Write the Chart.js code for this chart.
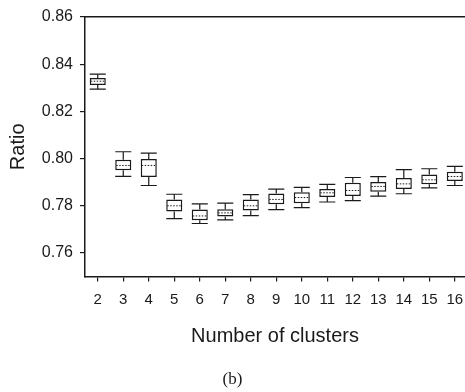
<!DOCTYPE html>
<html>
<head>
<meta charset="utf-8">
<title>Ratio vs number of clusters</title>
<script src="https://cdn.jsdelivr.net/npm/chart.js@4.4.0/dist/chart.umd.min.js"></script>
<style>
    body { margin: 0; background: #fff; overflow: hidden; }
    .chart-box { width: 465px; height: 392px; position: relative; }
</style>
</head>
<body>
<div class="chart-box">
    <canvas id="ratioChart"></canvas>
</div>
<script>
// Box plot data
const clusters = [2, 3, 4, 5, 6, 7, 8, 9, 10, 11, 12, 13, 14, 15, 16];
const whiskerHigh = [0.8358, 0.8029, 0.8023, 0.7849, 0.7808, 0.7811, 0.7847, 0.7871, 0.7878, 0.7891, 0.7920, 0.7924, 0.7953, 0.7957, 0.7967];
const upperQuartile = [0.8342, 0.7995, 0.7998, 0.7827, 0.7784, 0.7785, 0.7827, 0.7852, 0.7857, 0.7871, 0.7898, 0.7901, 0.7918, 0.7933, 0.7944];
const medians = [0.8328, 0.7971, 0.7971, 0.7800, 0.7757, 0.7770, 0.7800, 0.7827, 0.7835, 0.7855, 0.7865, 0.7882, 0.7893, 0.7910, 0.7924];
const lowerQuartile = [0.8312, 0.7951, 0.7922, 0.7776, 0.7739, 0.7755, 0.7780, 0.7807, 0.7811, 0.7837, 0.7842, 0.7860, 0.7871, 0.7891, 0.7905];
const whiskerLow = [0.8294, 0.7925, 0.7886, 0.7746, 0.7725, 0.7740, 0.7758, 0.7784, 0.7792, 0.7816, 0.7822, 0.7841, 0.7851, 0.7876, 0.7886];
const yTicks = [0.76, 0.78, 0.80, 0.82, 0.84, 0.86];

const ink = '#1a1a1a';
const sans = 'Liberation Sans, Arial, sans-serif';

// Whiskers, caps and medians drawn on top of the floating bars
const whiskerPlugin = {
    id: 'whiskers',
    afterDatasetsDraw(chart) {
        const ctx = chart.ctx;
        const yScale = chart.scales.y;
        const bars = chart.getDatasetMeta(0).data;
        ctx.save();
        ctx.strokeStyle = ink;
        bars.forEach((bar, i) => {
            const half = bar.width / 2;
            const yHi = yScale.getPixelForValue(whiskerHigh[i]);
            const yQ3 = yScale.getPixelForValue(upperQuartile[i]);
            const yQ1 = yScale.getPixelForValue(lowerQuartile[i]);
            const yLo = yScale.getPixelForValue(whiskerLow[i]);
            const yMed = yScale.getPixelForValue(medians[i]);

            ctx.lineWidth = 1.2;
            ctx.setLineDash([]);
            ctx.beginPath();
            ctx.moveTo(bar.x, yQ3);
            ctx.lineTo(bar.x, yHi);
            ctx.moveTo(bar.x, yQ1);
            ctx.lineTo(bar.x, yLo);
            ctx.moveTo(bar.x - half, yHi);
            ctx.lineTo(bar.x + half, yHi);
            ctx.moveTo(bar.x - half, yLo);
            ctx.lineTo(bar.x + half, yLo);
            ctx.stroke();

            // dotted median
            ctx.lineWidth = 1;
            ctx.setLineDash([1.5, 1.5]);
            ctx.beginPath();
            ctx.moveTo(bar.x - half + 1, yMed);
            ctx.lineTo(bar.x + half - 1, yMed);
            ctx.stroke();
        });
        ctx.restore();
    }
};

function initChart() {
    const ctx = document.getElementById('ratioChart').getContext('2d');
    const boxes = clusters.map((c, i) => ({ x: c, y: [lowerQuartile[i], upperQuartile[i]] }));

    new Chart(ctx, {
        type: 'bar',
        data: {
            datasets: [{
                label: 'Ratio',
                data: boxes,
                backgroundColor: '#ffffff',
                borderColor: ink,
                borderWidth: 1.5,
                borderSkipped: false,
                barPercentage: 0.63,
                categoryPercentage: 1
            }]
        },
        options: {
            responsive: true,
            maintainAspectRatio: false,
            animation: false,
            layout: { padding: { top: 17, left: 0, right: 0, bottom: 0 } },
            plugins: {
                legend: { display: false },
                tooltip: { enabled: false },
                title: {
                    display: true,
                    text: '(b)',
                    position: 'bottom',
                    color: ink,
                    font: { family: 'Liberation Serif, Times New Roman, serif', size: 17, weight: 'normal' },
                    padding: { top: 21, bottom: 2 }
                }
            },
            scales: {
                x: {
                    type: 'linear',
                    position: 'bottom',
                    offset: false,
                    min: 1.5,
                    max: 16.4,
                    afterBuildTicks: (scale) => {
                        scale.ticks = clusters.map(v => ({ value: v }));
                    },
                    // let the plot run to the right edge like the original
                    afterFit: (scale) => {
                        scale.paddingLeft = 0;
                        scale.paddingRight = 0;
                    },
                    grid: { offset: false, drawOnChartArea: false, drawTicks: true, tickLength: 5, color: ink, lineWidth: 1.2 },
                    border: { display: true, color: ink, width: 1.5 },
                    ticks: { color: ink, padding: 9, font: { family: sans, size: 15 } },
                    title: {
                        display: true,
                        text: 'Number of clusters',
                        color: ink,
                        font: { family: sans, size: 20 },
                        padding: { top: 7, bottom: 0 }
                    }
                },
                xTop: {
                    type: 'linear',
                    position: 'top',
                    afterFit: (scale) => {
                        scale.height = 0;
                        scale.paddingLeft = 0;
                        scale.paddingRight = 0;
                    },
                    grid: { display: false },
                    ticks: { display: false },
                    border: { display: true, color: ink, width: 1.5 }
                },
                y: {
                    min: 0.75,
                    max: 0.86,
                    afterBuildTicks: (scale) => {
                        scale.ticks = yTicks.map(v => ({ value: v }));
                    },
                    afterFit: (scale) => { scale.width = 85; },
                    grid: { drawOnChartArea: false, drawTicks: true, tickLength: 5, color: ink, lineWidth: 1.2 },
                    border: { display: true, color: ink, width: 1.5 },
                    ticks: {
                        color: ink,
                        padding: 7,
                        font: { family: sans, size: 16 },
                        callback: (value) => value.toFixed(2)
                    },
                    title: {
                        display: true,
                        text: 'Ratio',
                        color: ink,
                        font: { family: sans, size: 20 },
                        padding: { top: 6, bottom: 0 }
                    }
                }
            }
        },
        plugins: [whiskerPlugin]
    });
}

document.addEventListener('DOMContentLoaded', initChart);
</script>
</body>
</html>
